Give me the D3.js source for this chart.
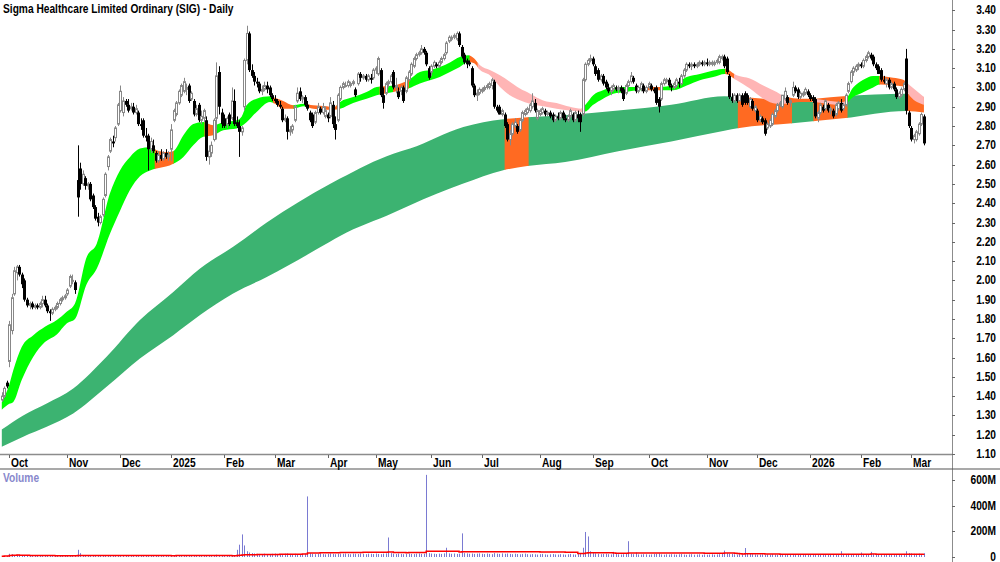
<!DOCTYPE html>
<html>
<head>
<meta charset="utf-8">
<script src="https://cdn.jsdelivr.net/npm/d3@7"></script>
<style>
  html, body { margin: 0; padding: 0; background: #fff; }
  svg { display: block; font-family: "Liberation Sans", Arial, sans-serif; font-weight: bold; }
</style>
</head>
<body>
<svg id="chart" width="1000" height="562"></svg>
<script>
const title = "Sigma Healthcare Limited Ordinary (SIG) - Daily";

// trading day index 0 = 1 Oct 2024, first bar is 3 days earlier
const firstIdx = -3;

// [open, high, low, close]
const ohlc = [
  // Sep 2024
  [1.38,1.42,1.37,1.40],[1.40,1.45,1.39,1.44],[1.47,1.48,1.44,1.45],
  // Oct 2024
  [1.58,1.79,1.55,1.77],[1.74,1.93,1.72,1.91],[1.93,2.07,1.92,2.05],[2.04,2.08,2.00,2.07],[2.07,2.08,2.02,2.03],
  [2.03,2.04,1.96,1.98],[2.00,2.01,1.89,1.90],[1.90,1.91,1.86,1.87],[1.87,1.89,1.85,1.88],[1.88,1.89,1.85,1.86],
  [1.86,1.88,1.85,1.87],[1.87,1.88,1.85,1.86],[1.86,1.89,1.85,1.88],[1.88,1.92,1.86,1.90],[1.90,1.92,1.86,1.87],
  [1.87,1.88,1.83,1.84],[1.84,1.85,1.79,1.83],[1.83,1.86,1.82,1.85],[1.85,1.87,1.84,1.86],[1.86,1.89,1.85,1.88],
  [1.88,1.91,1.87,1.90],[1.90,1.92,1.89,1.91],[1.91,1.93,1.90,1.92],
  // Nov 2024
  [1.93,1.96,1.92,1.95],[1.97,2.03,1.96,2.02],[2.00,2.03,1.98,2.00],[1.99,2.00,1.93,1.95],[2.52,2.70,2.33,2.43],
  [2.58,2.61,2.47,2.50],[2.50,2.57,2.49,2.55],[2.53,2.54,2.47,2.49],[2.49,2.51,2.47,2.50],[2.50,2.51,2.41,2.42],
  [2.44,2.45,2.37,2.38],[2.38,2.39,2.31,2.32],[2.33,2.35,2.28,2.30],[2.30,2.34,2.29,2.33],[2.34,2.43,2.33,2.42],
  [2.44,2.56,2.43,2.55],[2.59,2.65,2.57,2.64],[2.67,2.74,2.66,2.73],[2.72,2.75,2.69,2.71],[2.74,2.80,2.72,2.79],
  [2.81,2.92,2.80,2.91],
  // Dec 2024
  [2.88,3.01,2.87,2.98],[2.87,2.95,2.85,2.93],[2.93,2.94,2.90,2.91],[2.91,2.94,2.87,2.88],[2.89,2.92,2.88,2.90],
  [2.90,2.92,2.86,2.87],[2.87,2.91,2.86,2.89],[2.87,2.88,2.80,2.81],[2.81,2.84,2.78,2.80],[2.83,2.84,2.74,2.75],
  [2.75,2.79,2.72,2.74],[2.75,2.76,2.57,2.68],[2.68,2.74,2.66,2.72],[2.70,2.73,2.66,2.67],[2.66,2.67,2.61,2.62],
  [2.62,2.67,2.61,2.65],[2.65,2.68,2.62,2.63],[2.63,2.67,2.62,2.66],[2.66,2.68,2.63,2.64],[2.64,2.67,2.62,2.65],
  // Jan 2025
  [2.68,2.81,2.62,2.78],[2.83,2.89,2.82,2.88],[2.86,2.93,2.85,2.92],[2.92,2.99,2.91,2.98],[2.96,3.02,2.95,3.01],
  [2.98,3.05,2.97,3.03],[2.99,3.02,2.96,3.00],[3.01,3.02,2.92,2.93],[2.94,2.98,2.93,2.97],[2.93,2.94,2.85,2.86],
  [2.86,2.91,2.85,2.89],[2.91,2.92,2.82,2.83],[2.83,2.88,2.81,2.85],[2.84,2.89,2.82,2.88],[2.83,2.85,2.62,2.64],
  [2.64,2.70,2.60,2.67],[2.66,2.72,2.64,2.70],[2.73,2.84,2.72,2.83],[2.84,3.13,2.73,3.06],[3.08,3.11,2.86,2.90],
  [2.87,2.89,2.79,2.81],
  // Feb 2025
  [2.84,2.86,2.79,2.80],[2.81,2.85,2.79,2.84],[2.86,2.87,2.80,2.81],[2.84,3.00,2.83,2.93],[2.93,2.99,2.80,2.81],
  [2.82,2.85,2.79,2.80],[2.80,2.83,2.64,2.77],[2.77,2.80,2.75,2.79],[2.90,3.15,2.88,3.14],[3.14,3.32,3.12,3.28],
  [3.28,3.29,3.08,3.09],[3.09,3.12,3.05,3.06],[3.06,3.08,3.01,3.03],[3.03,3.05,3.00,3.02],[3.02,3.03,2.97,2.98],
  [2.98,3.01,2.96,2.99],[2.99,3.03,2.98,3.01],[3.01,3.03,2.97,2.99],[3.00,3.01,2.95,2.96],[2.96,2.97,2.93,2.94],
  // Mar 2025
  [2.94,2.96,2.92,2.93],[2.93,2.94,2.90,2.91],[2.91,2.93,2.89,2.90],[2.89,2.90,2.82,2.83],[2.83,2.86,2.82,2.84],
  [2.84,2.85,2.73,2.77],[2.77,2.80,2.75,2.78],[2.78,2.81,2.76,2.80],[2.83,2.91,2.82,2.90],[2.93,3.00,2.92,2.97],
  [2.98,3.00,2.93,2.94],[2.94,2.96,2.92,2.95],[2.95,2.96,2.90,2.91],[2.91,2.93,2.88,2.89],[2.87,2.88,2.82,2.83],
  [2.86,2.87,2.79,2.80],[2.82,2.88,2.81,2.87],[2.87,2.92,2.86,2.90],[2.89,2.90,2.86,2.87],[2.87,2.92,2.86,2.90],
  [2.85,2.90,2.84,2.88],
  // Apr 2025
  [2.86,2.87,2.82,2.84],[2.85,2.95,2.84,2.92],[2.91,2.93,2.79,2.81],[2.81,2.85,2.73,2.78],[2.83,2.97,2.82,2.96],
  [2.94,3.01,2.93,3.00],[3.00,3.03,2.99,3.02],[3.01,3.03,3.00,3.01],[3.01,3.04,3.00,3.03],[3.01,3.03,3.00,3.02],
  [3.02,3.04,3.01,3.03],[2.99,3.00,2.95,2.96],[3.02,3.08,3.01,3.07],[3.07,3.08,3.03,3.05],[3.05,3.07,3.04,3.06],
  [3.06,3.07,3.03,3.04],[3.04,3.07,3.03,3.06],[3.05,3.07,3.02,3.04],[3.05,3.10,3.04,3.09],
  // May 2025
  [3.09,3.11,3.07,3.10],[3.07,3.16,3.06,3.15],[3.09,3.10,2.95,2.96],[2.96,3.00,2.89,2.92],[2.97,3.03,2.96,3.02],
  [3.02,3.04,3.00,3.03],[3.03,3.07,3.02,3.06],[3.08,3.09,2.99,3.00],[3.00,3.05,2.97,3.01],[2.98,3.00,2.94,2.95],
  [2.98,3.01,2.96,3.00],[3.00,3.01,2.92,2.93],[2.98,3.06,2.97,3.05],[3.04,3.09,3.03,3.08],[3.07,3.13,3.06,3.12],
  [3.11,3.16,3.10,3.15],[3.15,3.18,3.14,3.17],[3.17,3.19,3.16,3.18],[3.18,3.22,3.17,3.20],[3.20,3.21,3.17,3.18],
  [3.18,3.19,3.11,3.12],[3.10,3.11,3.04,3.05],
  // Jun 2025
  [3.08,3.12,3.06,3.11],[3.11,3.14,3.10,3.13],[3.12,3.13,3.10,3.11],[3.11,3.14,3.10,3.13],[3.13,3.16,3.12,3.15],
  [3.15,3.18,3.14,3.17],[3.18,3.24,3.17,3.23],[3.24,3.27,3.23,3.26],[3.25,3.27,3.24,3.26],[3.26,3.28,3.25,3.27],
  [3.25,3.29,3.24,3.28],[3.28,3.29,3.21,3.22],[3.21,3.22,3.15,3.16],[3.17,3.18,3.12,3.13],[3.14,3.15,3.10,3.12],
  [3.13,3.14,3.11,3.12],[3.10,3.11,3.00,3.01],[3.01,3.02,2.95,2.96],[2.96,2.99,2.93,2.97],[2.97,3.00,2.96,2.99],
  // Jul 2025
  [2.98,3.00,2.97,2.99],[2.99,3.01,2.98,3.00],[3.00,3.02,2.99,3.01],[3.00,3.03,2.99,3.02],[3.01,3.05,2.99,3.04],
  [3.03,3.04,2.89,2.90],[2.90,2.91,2.87,2.88],[2.90,2.91,2.86,2.86],[2.86,2.89,2.85,2.88],[2.86,2.87,2.79,2.80],
  [2.81,2.82,2.72,2.73],[2.73,2.78,2.70,2.76],[2.76,2.82,2.75,2.81],[2.80,2.84,2.79,2.82],[2.80,2.81,2.76,2.77],
  [2.78,2.84,2.77,2.83],[2.83,2.88,2.82,2.87],[2.86,2.89,2.85,2.88],[2.87,2.90,2.86,2.89],[2.88,2.92,2.87,2.91],
  [2.90,2.97,2.89,2.93],[2.92,2.94,2.87,2.88],[2.84,2.89,2.83,2.88],
  // Aug 2025
  [2.86,2.89,2.85,2.88],[2.87,2.90,2.86,2.89],[2.88,2.89,2.85,2.86],[2.86,2.88,2.85,2.87],[2.87,2.88,2.84,2.85],
  [2.86,2.87,2.82,2.83],[2.83,2.86,2.82,2.85],[2.85,2.87,2.83,2.84],[2.84,2.88,2.83,2.87],[2.87,2.88,2.83,2.84],
  [2.84,2.86,2.82,2.83],[2.83,2.86,2.82,2.85],[2.85,2.89,2.84,2.88],[2.86,2.87,2.82,2.83],[2.83,2.88,2.82,2.87],
  [2.86,2.88,2.82,2.84],[2.86,2.87,2.77,2.82],[2.86,3.05,2.85,3.04],[3.04,3.13,3.03,3.12],[3.12,3.15,3.11,3.14],
  [3.14,3.17,3.13,3.15],
  // Sep 2025
  [3.15,3.16,3.11,3.12],[3.11,3.12,3.06,3.07],[3.09,3.10,3.03,3.04],[3.04,3.07,3.03,3.06],[3.06,3.07,3.01,3.02],
  [3.03,3.04,2.99,3.00],[3.00,3.02,2.97,2.98],[2.98,3.01,2.96,3.00],[2.99,3.02,2.98,3.01],[3.00,3.01,2.98,2.99],
  [2.99,3.01,2.97,3.00],[3.00,3.01,2.97,2.98],[2.99,3.00,2.93,2.94],[2.97,3.02,2.96,3.01],[3.01,3.04,3.00,3.03],
  [3.03,3.08,3.02,3.06],[3.05,3.06,3.02,3.03],[3.01,3.02,2.97,2.98],[2.98,3.01,2.97,3.00],[2.99,3.03,2.98,3.02],
  [3.01,3.02,2.97,2.98],[2.98,3.01,2.97,3.00],
  // Oct 2025
  [3.00,3.03,2.99,3.02],[3.01,3.02,2.98,2.99],[2.99,3.00,2.97,2.98],[3.00,3.01,2.91,2.92],[2.94,2.95,2.87,2.90],
  [2.94,3.03,2.93,3.02],[3.02,3.05,3.01,3.04],[3.03,3.05,3.02,3.04],[3.04,3.05,3.00,3.01],[3.01,3.02,2.98,3.00],
  [3.00,3.03,2.99,3.02],[3.01,3.05,3.00,3.04],[3.03,3.05,3.00,3.02],[3.02,3.07,3.01,3.06],[3.06,3.10,3.05,3.09],
  [3.09,3.13,3.08,3.12],[3.12,3.13,3.10,3.11],[3.11,3.13,3.09,3.12],[3.12,3.13,3.10,3.11],[3.11,3.13,3.10,3.12],
  [3.12,3.14,3.11,3.13],[3.13,3.14,3.11,3.12],[3.12,3.14,3.11,3.13],
  // Nov 2025
  [3.13,3.15,3.11,3.12],[3.12,3.14,3.11,3.13],[3.12,3.14,3.11,3.13],[3.12,3.14,3.11,3.13],[3.13,3.15,3.12,3.14],
  [3.13,3.17,3.12,3.16],[3.15,3.17,3.14,3.16],[3.16,3.17,3.10,3.11],[3.15,3.16,3.07,3.08],[3.06,3.07,2.94,2.95],
  [2.95,2.97,2.92,2.93],[2.93,2.97,2.92,2.96],[2.96,2.97,2.92,2.93],[2.93,2.97,2.93,2.96],[2.96,2.97,2.90,2.91],
  [2.97,2.98,2.91,2.92],[2.96,2.97,2.91,2.92],[2.90,2.95,2.89,2.94],[2.93,2.94,2.88,2.89],[2.88,2.91,2.87,2.90],
  // Dec 2025
  [2.88,2.89,2.82,2.83],[2.83,2.86,2.82,2.85],[2.84,2.85,2.81,2.82],[2.83,2.84,2.75,2.76],[2.79,2.82,2.78,2.81],
  [2.80,2.84,2.79,2.83],[2.81,2.87,2.80,2.86],[2.85,2.89,2.84,2.88],[2.88,2.92,2.87,2.91],[2.91,2.93,2.90,2.92],
  [2.90,2.96,2.89,2.96],[2.94,3.00,2.93,2.98],[2.95,2.96,2.91,2.92],[2.92,2.94,2.90,2.93],[2.96,3.03,2.95,3.00],
  [3.00,3.01,2.97,2.98],[2.99,3.00,2.94,2.95],[2.95,2.98,2.94,2.97],[2.96,2.98,2.95,2.97],[2.97,3.00,2.96,2.99],
  [2.98,2.99,2.95,2.96],
  // Jan 2026
  [2.96,2.97,2.93,2.94],[2.95,2.96,2.92,2.93],[2.94,2.95,2.84,2.85],[2.84,2.88,2.82,2.87],[2.87,2.92,2.86,2.91],
  [2.90,2.91,2.87,2.88],[2.89,2.94,2.88,2.93],[2.91,2.92,2.87,2.88],[2.88,2.90,2.86,2.89],[2.88,2.89,2.84,2.85],
  [2.86,2.92,2.85,2.91],[2.89,2.93,2.88,2.92],[2.92,2.94,2.87,2.88],[2.89,2.92,2.88,2.91],[2.91,2.97,2.90,2.96],
  [2.98,3.03,2.97,3.02],[3.03,3.09,3.02,3.08],[3.08,3.11,3.06,3.10],[3.09,3.12,3.08,3.11],[3.11,3.13,3.09,3.12],
  // Feb 2026
  [3.12,3.13,3.10,3.11],[3.11,3.15,3.10,3.14],[3.14,3.17,3.13,3.16],[3.16,3.19,3.15,3.18],[3.17,3.18,3.14,3.15],
  [3.16,3.17,3.11,3.12],[3.12,3.13,3.09,3.10],[3.11,3.12,3.07,3.07],[3.09,3.10,3.03,3.04],[3.04,3.06,3.02,3.03],
  [3.02,3.05,3.00,3.04],[3.04,3.05,2.99,3.00],[3.00,3.03,2.99,3.02],[3.02,3.03,2.98,2.99],[2.99,3.00,2.94,2.95],
  [2.95,2.98,2.94,2.97],[2.96,3.00,2.95,2.99],[2.99,3.03,2.98,3.02],[3.15,3.20,2.86,2.88],[2.87,2.88,2.79,2.80],
  // Mar 2026
  [2.79,2.80,2.72,2.73],[2.73,2.76,2.71,2.75],[2.73,2.78,2.72,2.77],[2.76,2.82,2.75,2.81],[2.81,2.87,2.80,2.86],
  [2.85,2.86,2.70,2.71]
];

// daily volume, millions of shares
const volume = [
  6,8,9,25,22,15,18,12,10,9,8,7,9,8,7,10,9,8,11,7,
  8,7,9,10,12,14,9,8,11,9,56,30,14,12,10,9,11,13,10,9,
  12,14,11,10,9,12,13,11,9,8,10,9,8,7,11,9,10,12,14,9,
  8,9,7,6,8,7,9,5,10,12,9,8,11,10,9,12,13,10,9,11,
  14,10,9,12,15,18,14,11,10,12,13,16,14,56,96,176,90,45,35,30,
  28,25,24,22,26,23,21,25,27,24,22,20,26,28,24,22,25,23,21,24,
  26,472,30,25,22,24,27,23,21,25,28,24,22,26,23,25,27,24,22,26,
  25,23,28,24,22,26,25,23,27,24,22,26,28,152,30,25,23,27,24,22,
  25,27,24,23,26,28,24,25,640,30,27,25,23,26,24,28,72,28,25,27,
  24,26,184,30,28,25,27,24,26,28,25,23,27,24,22,30,26,24,28,25,
  27,24,22,25,23,21,24,26,22,20,23,21,19,22,24,20,18,21,23,20,
  19,22,20,18,21,24,20,19,23,30,72,195,160,45,30,28,25,22,24,26,
  22,20,40,23,21,19,22,24,123,26,22,35,20,19,22,21,18,20,23,25,
  28,20,18,21,19,22,20,18,21,23,19,17,20,22,18,19,21,17,20,18,
  19,21,18,20,22,24,50,30,26,25,21,19,22,20,70,28,24,22,20,18,
  19,21,17,20,18,22,19,17,20,21,18,16,19,20,17,18,21,19,16,18,
  20,17,22,19,18,21,17,19,20,18,16,19,45,22,20,24,21,19,23,20,
  35,22,20,21,40,24,21,19,22,20,18,21,23,20,19,22,21,24,45,30,
  28,25,24,26,22,30
];

const monthLabels = ["Oct","Nov","Dec","2025","Feb","Mar","Apr","May","Jun","Jul","Aug","Sep","Oct","Nov","Dec","2026","Feb","Mar"];
const monthStart  = [0,23,44,64,85,105,126,145,167,187,210,231,253,276,296,317,337,357];

// short-term average band (upper / lower edge)
const shortIdx = [-3,0,1.6,4.9,9.5,14.1,18.8,22.7,26,30.6,34.6,39.8,43.8,47.8,51.7,55.7,58.3,62,64.9,68.9,72.8,76.8,80.7,84.7,90,92,93.9,97.9,103.2,105.1,108.4,112.4,116.3,120.3,125.6,128.2,130.9,136.1,141.4,145.4,152,157.9,162.5,166.5,170.4,174.4,178.3,181.6,184,186.3,190.2,194.2,198.1,202.1,206.1,211.3,216.6,221.9,226.5,228,231.1,235,239,244.3,249.6,257.5,262.8,268.1,273.3,278.6,283.2,287.9,293.1,298.4,303.7,307.6,312.9,318.2,323.5,330.1,334,338,341.9,344.6,349.8,353.8,356.5,362];
const shortTop = [1.37,1.46,1.535,1.655,1.716,1.759,1.794,1.837,1.88,2.12,2.19,2.45,2.57,2.64,2.683,2.69,2.675,2.665,2.67,2.752,2.81,2.821,2.804,2.82,2.83,2.85,2.908,2.942,2.954,2.947,2.93,2.908,2.916,2.908,2.902,2.896,2.925,2.95,2.977,3.003,3.01,3.037,3.08,3.09,3.106,3.13,3.158,3.167,3.15,3.115,3.09,3.063,3.03,2.994,2.968,2.933,2.92,2.90,2.89,2.91,2.96,2.985,3.003,3.003,3.003,3.003,3.011,3.054,3.07,3.088,3.097,3.063,3.046,3.01,2.977,2.95,2.942,2.942,2.933,2.925,3.00,3.04,3.06,3.06,3.05,3.04,3.01,2.95];
const shortBot = [1.33,1.36,1.37,1.483,1.604,1.68,1.72,1.777,1.80,1.98,2.06,2.24,2.36,2.47,2.54,2.57,2.58,2.59,2.605,2.64,2.70,2.744,2.752,2.778,2.787,2.80,2.82,2.873,2.925,2.916,2.89,2.89,2.903,2.89,2.885,2.885,2.89,2.92,2.942,2.96,2.977,2.994,3.02,3.037,3.054,3.08,3.106,3.132,3.125,3.09,3.063,3.003,2.96,2.934,2.916,2.902,2.89,2.88,2.873,2.875,2.91,2.942,2.968,2.977,2.985,2.985,2.985,3.01,3.037,3.054,3.07,3.037,2.994,2.942,2.916,2.916,2.925,2.925,2.916,2.907,2.95,2.975,3.00,3.015,3.01,3.005,2.955,2.91];

// long-term average band
const longIdx = [-3,5.5,14.8,25.3,38.5,51.7,64.9,75.5,88.6,101.9,126.9,130.9,152,158.6,179.7,195.5,205,220,241,262,283,289,310,330,355,362];
const longTop = [1.227,1.30,1.362,1.44,1.604,1.794,1.94,2.062,2.174,2.30,2.50,2.528,2.657,2.683,2.795,2.835,2.845,2.856,2.88,2.91,2.955,2.95,2.935,2.955,2.968,2.95];
const longBot = [1.137,1.19,1.241,1.31,1.448,1.595,1.716,1.82,1.932,2.018,2.20,2.23,2.35,2.39,2.502,2.571,2.593,2.614,2.67,2.72,2.775,2.79,2.815,2.84,2.878,2.87];

// band colour by trading-day range: g = rising, o = mixed, p = falling
const shortSpans = [[-3,57.7,"g"],[57.7,64.9,"o"],[64.9,77.4,"g"],[77.4,80.9,"o"],[80.9,104.5,"g"],[104.5,112.4,"o"],
  [112.4,117.7,"g"],[117.7,129.8,"o"],[129.8,146.7,"g"],[146.7,149.5,"o"],[149.5,152,"g"],[152,158,"o"],[158,182.3,"g"],
  [182.3,185.5,"o"],[185.5,226.6,"p"],[226.6,252,"g"],[252,257.5,"o"],[257.5,283.5,"g"],[283.5,287,"o"],[287,307.5,"p"],
  [307.5,318,"o"],[318,331,"p"],[331,344.5,"g"],[344.5,355,"o"],[355,363,"p"]];
const longSpans = [[-3,196.2,"g"],[196.2,205.4,"o"],[205.4,288.5,"g"],[288.5,309.6,"o"],[309.6,318.4,"g"],
  [318.4,331.6,"o"],[331.6,355,"g"],[355,363,"o"]];

const shortColors = { g: "#00ff00", o: "#ff6a22", p: "#ffb5b5" };
const longColors  = { g: "#3cb371", o: "#ff6a22" };

const width = 1000, height = 562;
const axisX = 952;

const svg = d3.select("#chart");
const defs = svg.append("defs");

const x = d3.scaleLinear().domain([0, 357]).range([9.3, 911.3]);
const y = d3.scaleLinear().domain([1.10, 3.40]).range([454, 10.3]);
const yv = d3.scaleLinear().domain([0, 600]).range([557, 480]);

// narrow bold text (original uses a condensed face)
function label(parent, tx, ty, str, anchor, fill) {
  return parent.append("text")
    .attr("transform", `translate(${tx},${ty}) scale(0.85,1)`)
    .attr("text-anchor", anchor || "start")
    .attr("font-size", 12)
    .attr("fill", fill || "#000")
    .text(str);
}

// bands
const plot = svg.append("g");
defs.append("clipPath").attr("id", "plotClip")
  .append("rect").attr("x", 0).attr("y", 0).attr("width", axisX).attr("height", 454);
plot.attr("clip-path", "url(#plotClip)");

const bandArea = d3.area()
  .x(d => x(d.i))
  .y0(d => y(d.lo))
  .y1(d => y(d.hi))
  .curve(d3.curveMonotoneX);

function drawBand(idx, top, bot, spans, colors, id) {
  const data = idx.map((v, k) => ({ i: v, hi: top[k], lo: bot[k] }));
  Object.keys(colors).forEach(key => {
    const cp = defs.append("clipPath").attr("id", id + key);
    spans.filter(s => s[2] === key).forEach(s => {
      cp.append("rect")
        .attr("x", x(s[0]) - 0.4)
        .attr("width", x(s[1]) - x(s[0]) + 0.8)
        .attr("y", 0).attr("height", 460);
    });
    plot.append("path")
      .datum(data)
      .attr("d", bandArea)
      .attr("fill", colors[key])
      .attr("clip-path", `url(#${id + key})`);
  });
}
drawBand(longIdx, longTop, longBot, longSpans, longColors, "lb");
drawBand(shortIdx, shortTop, shortBot, shortSpans, shortColors, "sb");

// candles
const bars = ohlc.map((d, k) => ({ i: firstIdx + k, o: d[0], h: d[1], l: d[2], c: d[3] }));
const cg = plot.append("g");
bars.forEach(b => {
  const cx = Math.round(x(b.i));
  const up = b.c >= b.o;
  cg.append("line")
    .attr("x1", cx + 0.5).attr("x2", cx + 0.5)
    .attr("y1", y(b.h)).attr("y2", y(b.l))
    .attr("stroke", up ? "#888" : "#000").attr("stroke-width", 1);
  const yTop = y(Math.max(b.o, b.c)), yBot = y(Math.min(b.o, b.c));
  const hgt = Math.max(1, yBot - yTop);
  if (up) {
    cg.append("rect")
      .attr("x", cx - 0.5).attr("y", yTop)
      .attr("width", 2).attr("height", hgt)
      .attr("fill", "#fff").attr("stroke", "#888").attr("stroke-width", 1);
  } else {
    cg.append("rect")
      .attr("x", cx - 1).attr("y", yTop)
      .attr("width", 3).attr("height", hgt)
      .attr("fill", "#000");
  }
});

// frame lines
svg.append("line").attr("x1", axisX + 0.5).attr("x2", axisX + 0.5).attr("y1", 0).attr("y2", height)
  .attr("stroke", "#8c8c8c");
svg.append("line").attr("x1", 0).attr("x2", axisX).attr("y1", 454.5).attr("y2", 454.5)
  .attr("stroke", "#8c8c8c").attr("stroke-width", 1.5);
svg.append("line").attr("x1", 0).attr("x2", width).attr("y1", 469).attr("y2", 469)
  .attr("stroke", "#555").attr("stroke-width", 1.2);

// price axis
const ticks = y.ticks(23);
ticks.forEach(t => {
  svg.append("line").attr("x1", axisX).attr("x2", axisX + 3)
    .attr("y1", Math.round(y(t)) + 0.5).attr("y2", Math.round(y(t)) + 0.5).attr("stroke", "#666");
  label(svg, 996, y(t) + 4, d3.format(".2f")(t), "end");
});

// month axis
monthLabels.forEach((m, k) => {
  const mx = Math.round(x(monthStart[k])) + 0.5;
  svg.append("line").attr("x1", mx).attr("x2", mx).attr("y1", 455).attr("y2", 458).attr("stroke", "#666");
  label(svg, mx + 1.5, 467, m, "start");
});

// title
label(svg, 3, 13, title, "start");

// volume panel
const vg = svg.append("g");
bars.forEach((b, k) => {
  const vx = Math.round(x(b.i)) + 0.5;
  vg.append("line").attr("x1", vx).attr("x2", vx)
    .attr("y1", yv(0)).attr("y2", Math.min(yv(0) - 1, yv(volume[k])))
    .attr("stroke", "#7a7ad2").attr("stroke-width", 1);
});

// long volume average
const maLen = 60;
const volMa = volume.map((v, k) => {
  const win = volume.slice(Math.max(0, k - maLen + 1), k + 1);
  return { i: firstIdx + k, v: d3.mean(win) };
});
vg.append("path")
  .datum(volMa)
  .attr("d", d3.line().x(d => x(d.i)).y(d => yv(d.v)).curve(d3.curveStepAfter))
  .attr("fill", "none").attr("stroke", "#ff0000").attr("stroke-width", 1.5);

label(svg, 3, 482, "Volume", "start", "#8888cc");

[0, 200, 400, 600].forEach(t => {
  svg.append("line").attr("x1", axisX).attr("x2", axisX + 3)
    .attr("y1", Math.round(yv(t)) + 0.5).attr("y2", Math.round(yv(t)) + 0.5).attr("stroke", "#666");
  label(svg, 996, yv(t) + 4, t === 0 ? "0" : t + "M", "end");
});
</script>
</body>
</html>
